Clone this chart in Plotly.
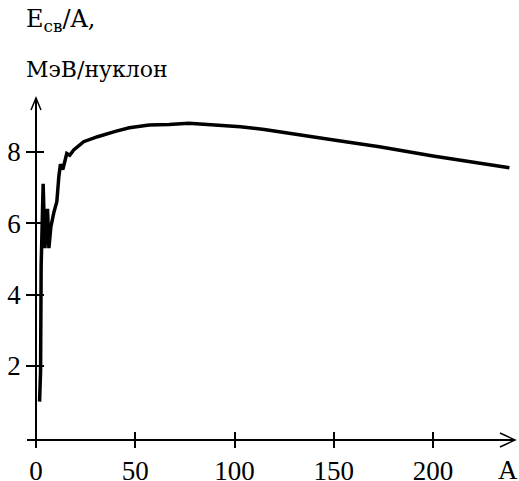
import plotly.graph_objects as go

# Data: mass number A vs binding energy per nucleon (MeV/nucleon)
mass_number = [1.8, 2.3, 2.6, 3.6, 4.5, 5.8, 6.5, 7.5, 9, 10.5, 11.5, 12.3, 13.5, 15.5, 17, 19,
               24, 31, 40, 47, 57, 67, 77, 88, 103, 115, 128, 150, 173, 200, 238.5]
energy_per_nucleon = [1.0, 1.85, 4.8, 7.1, 5.3, 6.4, 5.3, 5.9, 6.3, 6.6, 7.3, 7.65, 7.5, 7.95, 7.9, 8.05,
                      8.28, 8.42, 8.57, 8.67, 8.75, 8.76, 8.8, 8.76, 8.70, 8.62, 8.52, 8.33, 8.14, 7.88, 7.55]
x_ticks = [0, 50, 100, 150, 200]
y_ticks = [2, 4, 6, 8]
x_label = "A"
y_label_1 = "E<sub>св</sub>/A,"
y_label_2 = "МэВ/нуклон"

W, H = 519, 481
def px(x):
    return x / W
def py(y):
    return (H - y) / H

# pixel geometry
X0PIX, XSCALE = 36, 1.985      # x=0 pixel, px per unit
Y8PIX, YSCALE = 151.7, 35.7    # y=8 pixel, px per unit
XL, XR = 27, 515
YB, YT = 447, 98
XAXIS_Y = 440

xr = [(XL - X0PIX) / XSCALE, (XR - X0PIX) / XSCALE]
yr = [8 - (YB - Y8PIX) / YSCALE, 8 + (Y8PIX - YT) / YSCALE]

num_font = dict(family="Liberation Serif", size=27, color="black")
lab_font1 = dict(family="DejaVu Serif", size=24, color="black")
lab_font2 = dict(family="DejaVu Serif", size=22, color="black")

fig = go.Figure()
fig.add_trace(go.Scatter(x=mass_number, y=energy_per_nucleon, mode="lines",
                         line=dict(color="black", width=3.5), showlegend=False, hoverinfo="skip"))
fig.add_trace(go.Scatter(x=mass_number, y=energy_per_nucleon, mode="none", xaxis="x2", yaxis="y2",
                         showlegend=False, hoverinfo="skip"))

common_x = dict(domain=[px(XL), px(XR)], range=xr, anchor="free", position=py(XAXIS_Y),
                tickmode="array", tickvals=x_ticks, showgrid=False, zeroline=False,
                tickcolor="black", tickwidth=1.5, automargin=False)
common_y = dict(domain=[py(YB), py(YT)], range=yr, anchor="free", position=px(X0PIX),
                tickmode="array", tickvals=y_ticks, showgrid=False, zeroline=False,
                tickcolor="black", tickwidth=1.5, automargin=False)

fig.update_layout(
    width=W, height=H,
    margin=dict(l=0, r=0, t=0, b=0),
    paper_bgcolor="white", plot_bgcolor="white",
    xaxis=dict(**common_x, showline=True, linecolor="black", linewidth=1.5,
               ticks="outside", ticklen=7, tickfont=num_font, ticklabelstandoff=0,
               ticktext=[str(v) for v in x_ticks]),
    yaxis=dict(**common_y, showline=True, linecolor="black", linewidth=1.5,
               ticks="outside", ticklen=9, tickfont=num_font, ticktext=[str(v) for v in y_ticks]),
    xaxis2=dict(**common_x, overlaying="x", ticks="inside", ticklen=8, showticklabels=False, showline=False),
    yaxis2=dict(**common_y, overlaying="y", ticks="inside", ticklen=7, showticklabels=False, showline=False),
    shapes=[
        dict(type="path", xref="paper", yref="paper",
             path=f"M {px(31)} {py(110)} L {px(36)} {py(YT)} L {px(41)} {py(110)}",
             line=dict(color="black", width=1.5)),
        dict(type="path", xref="paper", yref="paper",
             path=f"M {px(500)} {py(433)} L {px(XR)} {py(XAXIS_Y)} L {px(500)} {py(447)}",
             line=dict(color="black", width=1.5)),
    ],
    annotations=[
        dict(text=y_label_1, xref="paper", yref="paper", x=px(24), y=py(3),
             xanchor="left", yanchor="top", showarrow=False, font=lab_font1),
        dict(text=y_label_2, xref="paper", yref="paper", x=px(24), y=py(55),
             xanchor="left", yanchor="top", showarrow=False, font=lab_font2),
        dict(text=x_label, xref="paper", yref="paper", x=px(508), y=py(487),
             xanchor="center", yanchor="bottom", showarrow=False, font=num_font),
    ],
)

fig.write_html("out.html")
